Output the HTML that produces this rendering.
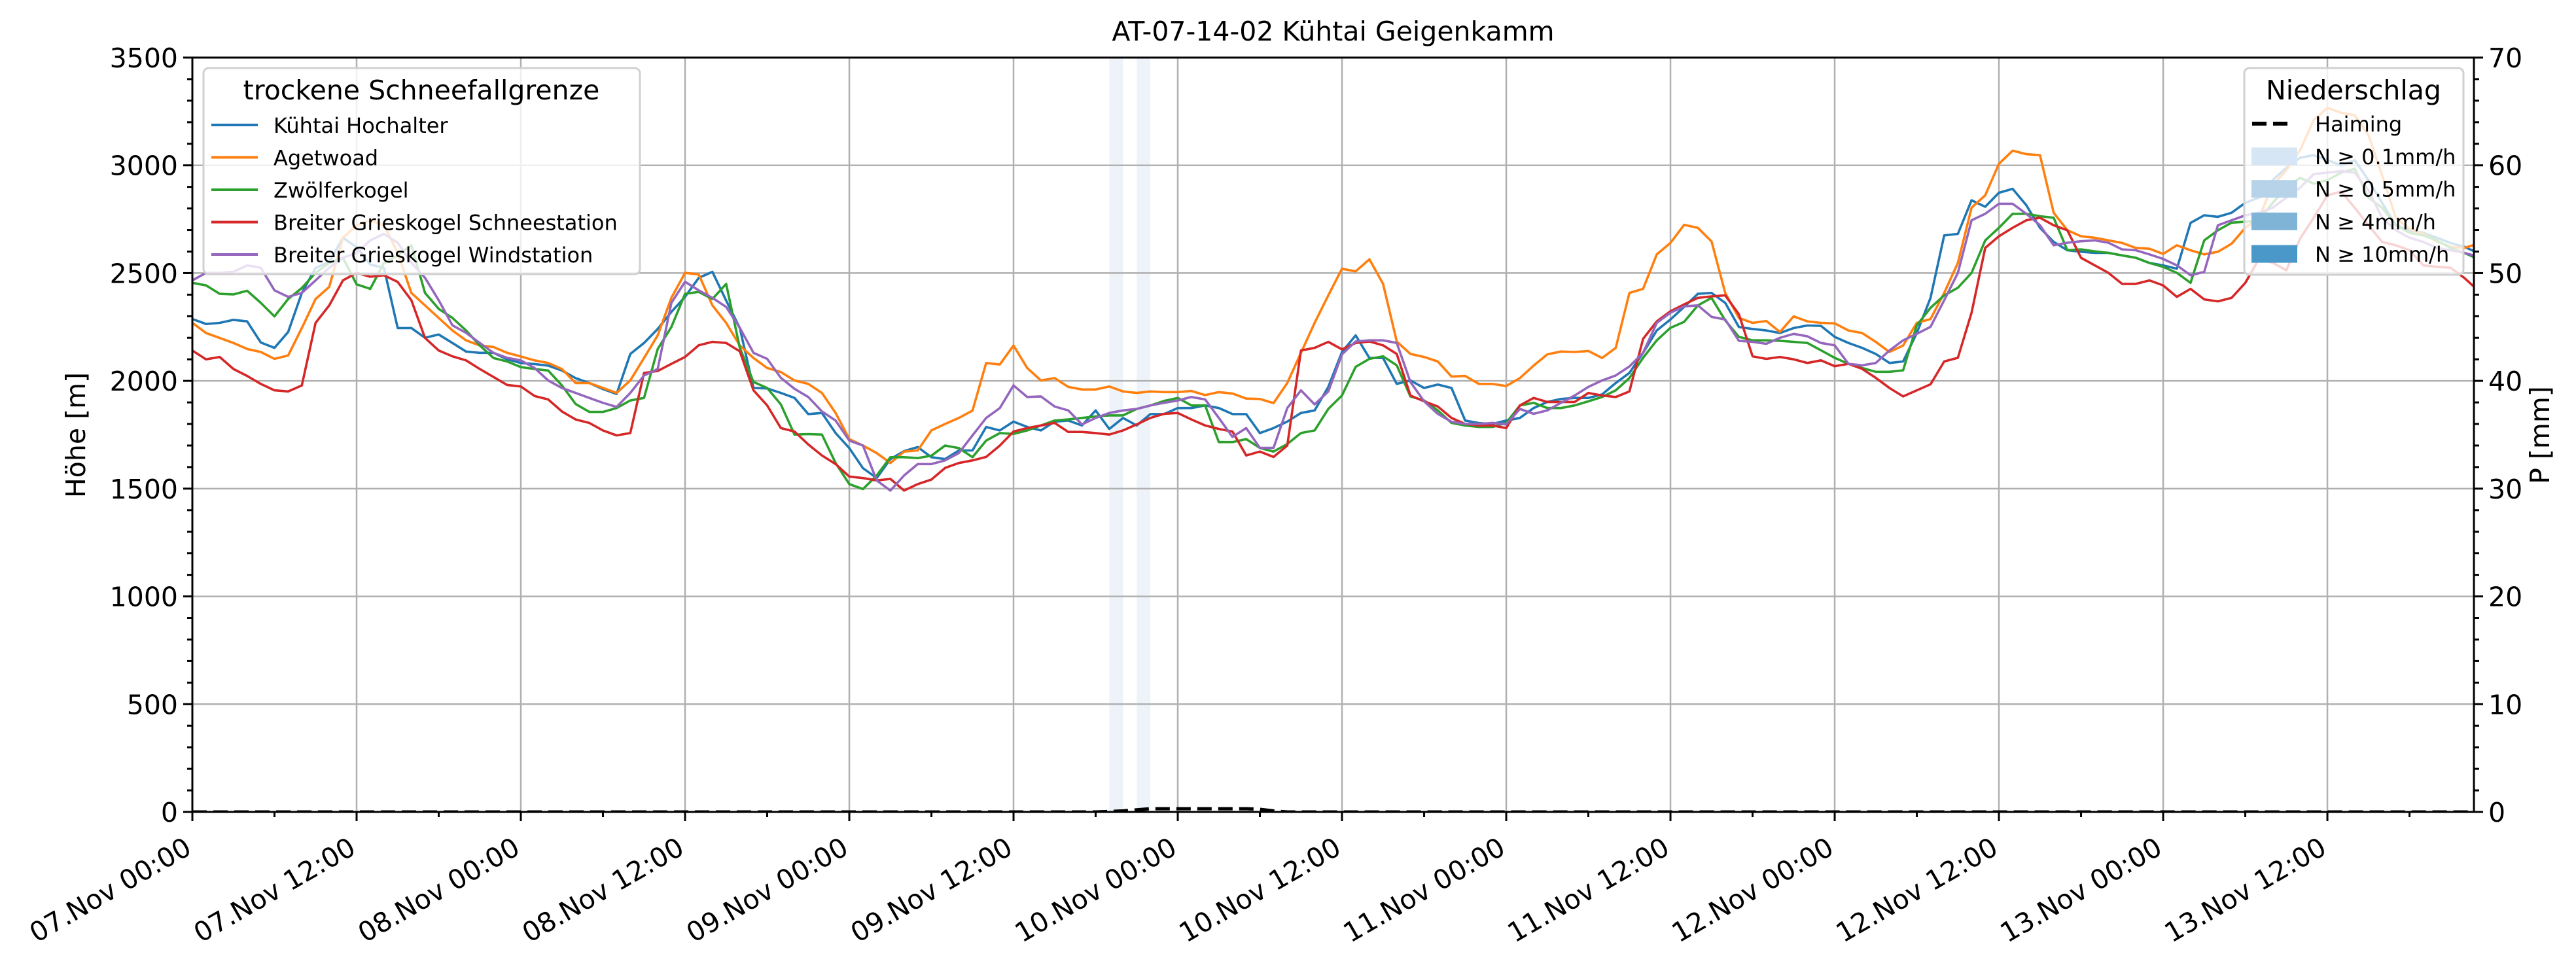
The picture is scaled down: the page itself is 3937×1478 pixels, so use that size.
<!DOCTYPE html>
<html><head><meta charset="utf-8">
<style>
html,body{margin:0;padding:0;background:#fff;}
svg{display:block;font-family:"DejaVu Sans","Liberation Sans",sans-serif;}
</style></head>
<body>
<svg id="chart" width="3937" height="1478" viewBox="0 0 3937 1478" xmlns="http://www.w3.org/2000/svg"><defs><clipPath id="plotclip"><rect x="294" y="88" width="3487" height="1153"/></clipPath></defs></svg>
<script>
const hours = Array.from({length:168},(_,i)=>i);
const blueVals=[2287,2264,2269,2283,2276,2178,2153,2227,2408,2524,2552,2664,2620,2540,2524,2245,2245,2200,2215,2176,2136,2130,2130,2100,2083,2078,2071,2048,2013,1990,1962,1939,2125,2176,2241,2320,2390,2478,2506,2373,2245,1967,1965,1944,1921,1846,1851,1758,1688,1595,1549,1637,1674,1693,1646,1637,1677,1677,1786,1770,1811,1786,1770,1811,1816,1793,1863,1777,1828,1793,1846,1846,1874,1874,1886,1874,1846,1846,1758,1781,1811,1851,1863,1972,2134,2211,2106,2106,1986,2002,1967,1983,1967,1816,1804,1800,1816,1828,1874,1902,1916,1921,1921,1937,1990,2037,2130,2234,2285,2343,2404,2408,2362,2250,2241,2234,2222,2245,2257,2255,2204,2176,2153,2125,2083,2090,2222,2385,2675,2682,2838,2808,2873,2891,2815,2710,2645,2606,2599,2594,2594,2582,2571,2547,2536,2520,2733,2768,2761,2780,2826,2850,2931,2989,3035,3047,3024,3000,3024,2931,2826,2722,2699,2687,2664,2640,2622,2594];
const orangeVals=[2269,2222,2199,2176,2148,2134,2102,2118,2245,2380,2436,2664,2722,2745,2722,2594,2408,2350,2292,2234,2188,2164,2157,2130,2113,2095,2083,2055,1990,1990,1967,1944,2002,2106,2211,2385,2501,2494,2350,2269,2164,2106,2060,2041,2002,1986,1944,1851,1730,1700,1665,1619,1672,1677,1770,1800,1828,1862,2083,2076,2164,2060,2002,2013,1972,1960,1960,1974,1951,1944,1951,1948,1948,1953,1934,1948,1941,1918,1916,1897,1990,2130,2269,2397,2520,2508,2564,2450,2183,2125,2111,2090,2020,2023,1986,1986,1976,2013,2071,2123,2136,2134,2139,2106,2153,2408,2427,2587,2640,2724,2710,2647,2408,2292,2269,2278,2227,2299,2276,2269,2267,2234,2222,2181,2134,2164,2269,2287,2408,2547,2803,2861,3007,3068,3052,3047,2780,2699,2671,2664,2652,2640,2617,2613,2589,2629,2606,2587,2599,2636,2710,2757,2908,2977,3070,3210,3267,3244,3233,3140,2954,2757,2706,2682,2647,2622,2617,2636];
const greenVals=[2455,2443,2404,2401,2418,2362,2299,2380,2431,2501,2547,2571,2448,2427,2547,2582,2629,2408,2334,2292,2234,2164,2106,2090,2064,2055,2048,1979,1893,1856,1856,1874,1909,1921,2148,2250,2404,2413,2380,2450,2153,1995,1967,1891,1751,1753,1751,1619,1521,1498,1561,1646,1646,1642,1653,1700,1688,1646,1723,1758,1754,1770,1793,1816,1821,1828,1835,1840,1840,1870,1886,1907,1921,1886,1886,1716,1716,1730,1689,1672,1707,1758,1770,1870,1932,2065,2102,2114,2072,1928,1909,1863,1805,1793,1786,1786,1805,1886,1898,1874,1874,1886,1905,1925,1956,2013,2107,2188,2246,2274,2350,2385,2281,2204,2188,2188,2186,2181,2176,2142,2107,2079,2060,2042,2042,2049,2258,2339,2397,2432,2501,2652,2710,2775,2775,2764,2757,2606,2610,2601,2594,2582,2571,2547,2529,2501,2455,2652,2699,2734,2738,2745,2826,2896,2942,2915,2931,2966,2984,2850,2803,2722,2687,2675,2652,2617,2594,2566];
const redVals=[2141,2100,2111,2055,2023,1986,1956,1951,1979,2269,2350,2466,2501,2483,2490,2459,2374,2199,2141,2114,2095,2055,2018,1981,1974,1930,1914,1858,1821,1805,1770,1747,1758,2037,2046,2079,2111,2165,2181,2176,2137,1956,1886,1781,1765,1705,1654,1614,1556,1549,1538,1545,1491,1521,1542,1596,1619,1631,1647,1700,1765,1781,1793,1805,1763,1763,1758,1751,1770,1798,1828,1847,1851,1821,1793,1777,1765,1654,1672,1647,1700,2141,2153,2181,2146,2176,2183,2165,2125,1932,1905,1881,1828,1800,1793,1793,1781,1886,1921,1902,1902,1902,1944,1932,1925,1951,2195,2276,2323,2355,2385,2392,2397,2309,2114,2102,2111,2100,2083,2095,2068,2079,2056,2014,1967,1928,1956,1984,2090,2107,2316,2617,2671,2710,2745,2757,2722,2699,2571,2536,2501,2450,2450,2466,2443,2390,2427,2378,2369,2385,2455,2566,2548,2513,2659,2757,2861,2878,2803,2722,2645,2629,2606,2536,2529,2525,2478,2420];
const purpleVals=[2466,2501,2501,2506,2536,2525,2420,2390,2408,2466,2525,2571,2594,2652,2682,2641,2548,2478,2374,2258,2223,2176,2130,2107,2095,2060,2002,1967,1944,1921,1898,1879,1944,2025,2055,2362,2460,2420,2385,2343,2246,2130,2102,2014,1963,1925,1858,1816,1723,1700,1538,1491,1561,1614,1614,1631,1665,1747,1828,1874,1979,1925,1928,1881,1863,1798,1828,1851,1863,1870,1886,1898,1909,1925,1914,1828,1740,1781,1689,1689,1874,1956,1891,1951,2123,2183,2188,2188,2176,1995,1905,1847,1810,1800,1800,1805,1798,1870,1847,1863,1898,1932,1972,2002,2025,2067,2130,2269,2316,2346,2350,2297,2285,2186,2181,2172,2200,2218,2207,2176,2165,2079,2072,2083,2141,2188,2218,2251,2374,2501,2745,2775,2822,2822,2775,2722,2629,2641,2648,2652,2641,2610,2606,2587,2566,2536,2490,2506,2722,2745,2768,2780,2803,2850,2896,2959,2966,2973,2966,2885,2757,2699,2664,2645,2617,2606,2594,2576];
const precipHours=[66,67,68,69,70,71,72,73,74,75,76,77,78,79,80];
const precipVals=[0,0.05,0.1,0.2,0.3,0.3,0.3,0.3,0.3,0.3,0.3,0.3,0.25,0.1,0];
const rainSpanStart=[67,69];
const rainSpanEnd=[68,70];
const yTicks=[0,500,1000,1500,2000,2500,3000,3500];
const pTicks=[0,10,20,30,40,50,60,70];
const xTickHours=[0,12,24,36,48,60,72,84,96,108,120,132,144,156];
const xTickLabels=["07.Nov 00:00","07.Nov 12:00","08.Nov 00:00","08.Nov 12:00","09.Nov 00:00","09.Nov 12:00","10.Nov 00:00","10.Nov 12:00","11.Nov 00:00","11.Nov 12:00","12.Nov 00:00","12.Nov 12:00","13.Nov 00:00","13.Nov 12:00"];
const seriesNames=["Kühtai Hochalter","Agetwoad","Zwölferkogel","Breiter Grieskogel Schneestation","Breiter Grieskogel Windstation"];
const seriesColors=["#1f77b4","#ff7f0e","#2ca02c","#d62728","#9467bd"];
const seriesData=[blueVals,orangeVals,greenVals,redVals,purpleVals];

const L=294,R=3781,T=88,B=1241;
const X=h=>L+h*20.917;
const Y=v=>B-(v/3500)*(B-T);
const YP=p=>B-(p/70)*(B-T);
const NS="http://www.w3.org/2000/svg";
const svg=document.getElementById('chart');
function mk(tag,attrs,parent){const e=document.createElementNS(NS,tag);for(const k in attrs)e.setAttribute(k,attrs[k]);(parent||svg).appendChild(e);return e;}

rainSpanStart.forEach((s,i)=>{
  const r=mk('rect',{x:X(s),y:T,width:X(rainSpanEnd[i])-X(s),height:B-T,fill:'#eef3fa'});
  
  
});
const grid=mk('g',{stroke:'#b0b0b0','stroke-width':2.5});


xTickHours.forEach(h=>mk('line',{x1:X(h),x2:X(h),y1:T,y2:B},grid));
yTicks.forEach(v=>mk('line',{x1:L,x2:R,y1:Y(v),y2:Y(v)},grid));

const plotG=mk('g',{'clip-path':'url(#plotclip)'});


seriesData.forEach((arr,si)=>{
  const pts=arr.map((v,i)=>X(hours[i]).toFixed(1)+','+Y(v).toFixed(1)).join(' ');
  const pl=mk('polyline',{points:pts,fill:'none',stroke:seriesColors[si],'stroke-width':3.6,'stroke-linejoin':'round'},plotG);
  
  
});
{
  let pts=[[0,0]];
  precipHours.forEach((h,i)=>pts.push([h,precipVals[i]]));
  pts.push([167,0]);
  const pl=mk('polyline',{points:pts.map(p=>X(p[0]).toFixed(1)+','+YP(p[1]).toFixed(1)).join(' '),fill:'none',stroke:'#000','stroke-width':5,'stroke-dasharray':'22 10'},plotG);
  
  
}
const frame=mk('rect',{x:L,y:T,width:R-L,height:B-T,fill:'none',stroke:'#000','stroke-width':3});



const tk=mk('g',{stroke:'#000','stroke-width':3});


for(let v=0;v<=3500;v+=100){const maj=v%500===0;mk('line',{x1:L-(maj?14:8),x2:L,y1:Y(v),y2:Y(v)},tk);}
for(let p=0;p<=70;p+=2){const maj=p%10===0;mk('line',{x1:R,x2:R+(maj?14:8),y1:YP(p),y2:YP(p)},tk);}
for(let h=0;h<=166;h+=6){const maj=h%12===0;mk('line',{x1:X(h),x2:X(h),y1:B,y2:B+(maj?14:8)},tk);}

function txt(s,attrs,name){const t=mk('text',attrs);t.textContent=s;return t;}
yTicks.forEach(v=>txt(String(v),{x:L-22,y:Y(v)+15,'font-size':41,'text-anchor':'end'},'y-tick-label'));
pTicks.forEach(p=>txt(String(p),{x:R+22,y:YP(p)+15,'font-size':41,'text-anchor':'start'},'p-tick-label'));
xTickHours.forEach((h,i)=>{
  const x=X(h)-14,y=B+36;
  txt(xTickLabels[i],{x:x,y:y,'font-size':41,'text-anchor':'end','dominant-baseline':'hanging',transform:`rotate(-30 ${x} ${y})`},'x-tick-label');
});
txt('AT-07-14-02 Kühtai Geigenkamm',{x:(L+R)/2,y:62,'font-size':41,'text-anchor':'middle'},'chart-title');
txt('Höhe [m]',{x:130,y:665,'font-size':41,'text-anchor':'middle',transform:'rotate(-90 130 665)'},'y-axis-title');
txt('P [mm]',{x:3896,y:665,'font-size':41,'text-anchor':'middle',transform:'rotate(-90 3896 665)'},'p-axis-title');

const lg1=mk('g',{});


mk('rect',{x:311,y:104,width:667,height:315,rx:8,fill:'rgba(255,255,255,0.8)',stroke:'#d0d0d0','stroke-width':3},lg1);
{const t=mk('text',{x:644,y:152,'font-size':41,'text-anchor':'middle'},lg1);t.textContent='trockene Schneefallgrenze';}
seriesNames.forEach((n,i)=>{
  const y=191+i*49.5;
  const l=mk('line',{x1:323,x2:394,y1:y,y2:y,stroke:seriesColors[i],'stroke-width':4},lg1);
  
  
  const t=mk('text',{x:418,y:y+12,'font-size':32},lg1);t.textContent=n;
  
  
});
const lg2=mk('g',{});


mk('rect',{x:3430,y:104,width:335,height:316,rx:8,fill:'rgba(255,255,255,0.8)',stroke:'#d0d0d0','stroke-width':3},lg2);
{const t=mk('text',{x:3597,y:152,'font-size':41,'text-anchor':'middle'},lg2);t.textContent='Niederschlag';}
{const l=mk('line',{x1:3442,x2:3500,y1:189,y2:189,stroke:'#000','stroke-width':6,'stroke-dasharray':'22 10'},lg2);
 const t=mk('text',{x:3538,y:201,'font-size':32},lg2);t.textContent='Haiming';}
const patchColors=['#d6e6f4','#b6d3ea','#7fb4d7','#4a98c9'];
const patchLabels=['N ≥ 0.1mm/h','N ≥ 0.5mm/h','N ≥ 4mm/h','N ≥ 10mm/h'];
patchLabels.forEach((s,i)=>{
  const y=239+i*49.7;
  const r=mk('rect',{x:3441,y:y-13.5,width:70,height:27,fill:patchColors[i]},lg2);
  
  
  const t=mk('text',{x:3538,y:y+12,'font-size':32},lg2);t.textContent=s;
  
  
});
</script>
</body></html>
